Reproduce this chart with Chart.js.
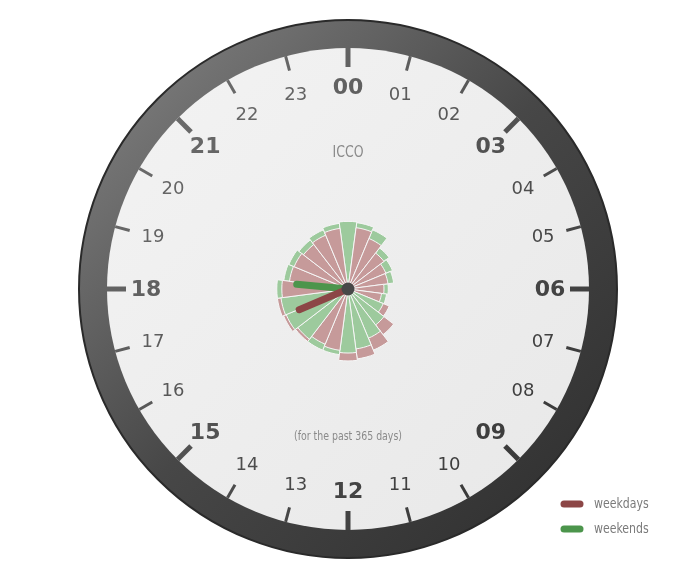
<!DOCTYPE html>
<html><head><meta charset="utf-8">
<script src="https://cdn.jsdelivr.net/npm/chart.js@4/dist/chart.umd.min.js"></script>
<style>html,body{margin:0;padding:0;background:#fff;}canvas{display:block;}</style>
</head><body>
<canvas id="c" width="696" height="576"></canvas>
<script>
// ---- data ----
const hourLabels = ['00','01','02','03','04','05','06','07','08','09','10','11','12','13','14','15','16','17','18','19','20','21','22','23'];
const majorHours = ['00','03','06','09','12','15','18','21'];
// relative activity per hour (peak = 100)
const weekdays = [94,86,76,63,57,56,50,47,62,80,92,98,100,86,83,92,97,99,92,82,81,78,81,85];
const weekends = [94,93,89,72,67,64,56,54,53,63,74,84,89,92,92,88,93,94,99,90,89,86,89,92];
// clock hands (hour of day)
const weekdaysHand = 16.47;
const weekendsHand = 18.35;
const seriesNames = ['weekdays','weekends'];
const titleText = 'ICCO';
const subtitleText = '(for the past 365 days)';

// ---- style ----
const PINK = '#c69a9a', GREEN = '#9dca9d';
const RED_HAND = '#8c4646', GREEN_HAND = '#4c954c';
const NARROW = '"DejaVu Sans Condensed","Liberation Sans Narrow","Open Sans",sans-serif';

const wdBig = weekdays.map((v,i)=> v >= weekends[i]);
const outerData = weekdays.map((v,i)=> Math.max(v, weekends[i]));
const innerData = weekdays.map((v,i)=> Math.min(v, weekends[i]));
const outerColors = wdBig.map(b => b ? PINK : GREEN);
const innerColors = wdBig.map(b => b ? GREEN : PINK);

function narrowText(ctx, txt, x, y, size, align) {
  ctx.save();
  ctx.font = size + 'px ' + NARROW;
  ctx.textAlign = align; ctx.textBaseline = 'middle';
  ctx.translate(x, y); ctx.scale(0.87, 1);
  ctx.fillText(txt, 0, 0);
  ctx.restore();
}

const clockPlugin = {
  id: 'clock',
  beforeDatasetsDraw(chart) {
    const s = chart.scales.r, ctx = chart.ctx;
    const cx = s.xCenter, cy = s.yCenter, R = s.drawingArea, RO = R + 28;
    ctx.save();
    // ring
    let g = ctx.createLinearGradient(cx - RO*0.75, cy - RO*0.75, cx + RO*0.75, cy + RO*0.75);
    g.addColorStop(0, '#777777'); g.addColorStop(0.5, '#474747'); g.addColorStop(1, '#333333');
    ctx.beginPath(); ctx.arc(cx, cy, RO, 0, Math.PI*2); ctx.fillStyle = g; ctx.fill();
    ctx.lineWidth = 2; ctx.strokeStyle = '#2a2a2a'; ctx.stroke();
    // face
    g = ctx.createLinearGradient(cx - R, cy - R, cx + R, cy + R);
    g.addColorStop(0, '#f3f3f3'); g.addColorStop(1, '#e8e8e8');
    ctx.beginPath(); ctx.arc(cx, cy, R, 0, Math.PI*2); ctx.fillStyle = g; ctx.fill();
    // ticks & labels
    const tg = ctx.createLinearGradient(cx - R*0.7, cy - R*0.7, cx + R*0.7, cy + R*0.7);
    tg.addColorStop(0, '#6a6a6a'); tg.addColorStop(1, '#3a3a3a');
    ctx.strokeStyle = tg; ctx.fillStyle = tg;
    ctx.textAlign = 'center'; ctx.textBaseline = 'middle';
    hourLabels.forEach((lab, i) => {
      const a = i / hourLabels.length * Math.PI * 2;
      const sn = Math.sin(a), cs = Math.cos(a);
      const major = majorHours.includes(lab);
      const r0 = major ? R - 19 : R - 15;
      ctx.lineWidth = major ? 5 : 3;
      ctx.lineCap = 'butt';
      ctx.beginPath();
      ctx.moveTo(cx + r0*sn, cy - r0*cs);
      ctx.lineTo(cx + R*sn, cy - R*cs);
      ctx.stroke();
      ctx.font = major ? 'bold 22px "DejaVu Sans"' : '18px "DejaVu Sans"';
      const lr = 202;
      ctx.fillText(lab, cx + lr*sn, cy - lr*cs + 1);
    });
    // texts
    ctx.fillStyle = '#8a8a8a';
    narrowText(ctx, titleText, cx, 153, 16, 'center');
    narrowText(ctx, subtitleText, cx, 437, 12, 'center');
    ctx.restore();
  },
  afterDatasetsDraw(chart) {
    const s = chart.scales.r, ctx = chart.ctx;
    const cx = s.xCenter, cy = s.yCenter;
    ctx.save();
    ctx.lineCap = 'round'; ctx.lineWidth = 7;
    const hand = (h, len, col) => {
      const a = h / 24 * Math.PI * 2;
      ctx.strokeStyle = col;
      ctx.beginPath(); ctx.moveTo(cx, cy);
      ctx.lineTo(cx + len*Math.sin(a), cy - len*Math.cos(a)); ctx.stroke();
    };
    hand(weekendsHand, 51.5, GREEN_HAND);
    hand(weekdaysHand, 53, RED_HAND);
    ctx.beginPath(); ctx.arc(cx, cy, 6.5, 0, Math.PI*2); ctx.fillStyle = '#484848'; ctx.fill();
    ctx.restore();
  },
  afterDraw(chart) {
    const ctx = chart.ctx;
    ctx.save();
    const cols = [RED_HAND, GREEN_HAND];
    seriesNames.forEach((n, i) => {
      const y = 504 + i*25;
      ctx.strokeStyle = cols[i]; ctx.lineWidth = 7; ctx.lineCap = 'round';
      ctx.beginPath(); ctx.moveTo(564, y); ctx.lineTo(580, y); ctx.stroke();
      ctx.fillStyle = '#7a7a7a';
      narrowText(ctx, n, 594, y, 14, 'left');
    });
    ctx.restore();
  }
};

new Chart(document.getElementById('c'), {
  type: 'polarArea',
  data: {
    labels: hourLabels,
    datasets: [
      { label: 'inner', data: innerData, backgroundColor: innerColors, borderColor: '#f6f6f6', borderWidth: 1 },
      { label: 'outer', data: outerData, backgroundColor: outerColors, borderColor: '#f6f6f6', borderWidth: 1 }
    ]
  },
  options: {
    responsive: false, animation: false, devicePixelRatio: 1,
    layout: { padding: { left: 107, right: 107, top: 48, bottom: 46 } },
    plugins: { legend: { display: false }, tooltip: { enabled: false } },
    scales: { r: { min: 0, max: 335, startAngle: -7.5,
      ticks: { display: false }, grid: { display: false }, angleLines: { display: false }, pointLabels: { display: false } } }
  },
  plugins: [clockPlugin]
});
</script>
</body></html>
